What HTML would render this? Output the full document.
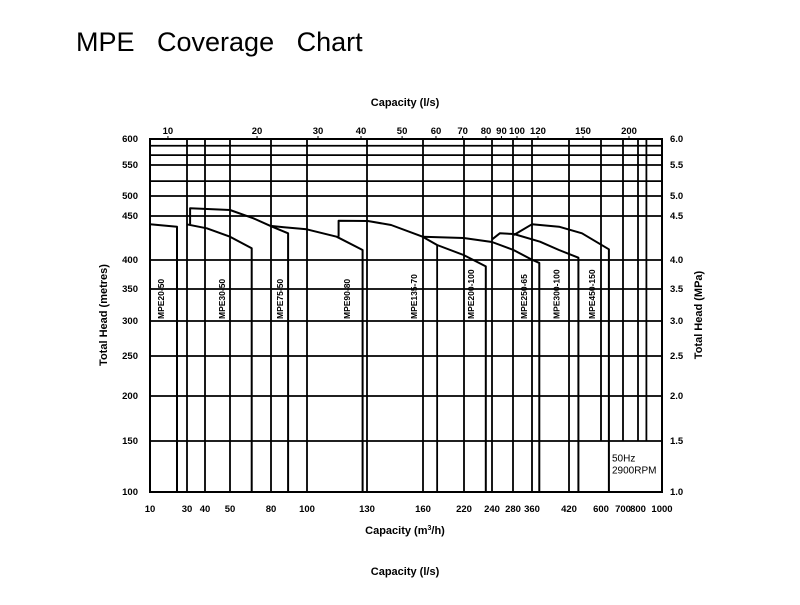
<!DOCTYPE html>
<html><head><meta charset="utf-8"><style>
body{margin:0;background:#fff;width:800px;height:600px;overflow:hidden;font-family:"Liberation Sans",Arial,sans-serif}
svg text{font-family:"Liberation Sans",Arial,sans-serif}
</style></head><body>
<svg id="chart" width="800" height="600" viewBox="0 0 800 600" xmlns="http://www.w3.org/2000/svg">
<text x="76" y="51" font-size="27" word-spacing="15">MPE Coverage Chart</text>
<text x="405" y="106" font-size="11" font-weight="bold" text-anchor="middle">Capacity (l/s)</text>
<text x="405" y="534" font-size="11" font-weight="bold" text-anchor="middle">Capacity (m<tspan font-size="7" dy="-4">3</tspan><tspan dy="4">/h)</tspan></text>
<text x="405" y="575" font-size="11" font-weight="bold" text-anchor="middle">Capacity (l/s)</text>
<text transform="translate(107,315) rotate(-90)" font-size="11" font-weight="bold" text-anchor="middle">Total Head  (metres)</text>
<text transform="translate(702,315) rotate(-90)" font-size="11" font-weight="bold" text-anchor="middle">Total Head  (MPa)</text>
<g id="plot"></g>
</svg>
<script>
// axis definitions (irregular chart scales)
const xAxisQ = [10,30,40,50,80,100,130,160,220,240,280,360,420,600,700,800,1000];
const xAxisPx = [150,187,205,230,271,307,367,423,464,492,513,532,569,601,623,638,662];
const yAxisH = [100,150,200,250,300,350,400,450,500,550,600];
const yAxisPx = [492,441,396,356,321,289,260,216,196,165,139];
// tick labels
const bottomTicks = [10,30,40,50,80,100,130,160,220,240,280,360,420,600,700,800,1000];
const topTickLabels = ["10","20","30","40","50","60","70","80","90","100","120","150","200"];
const topTickQ = [19.7,69.8,105.5,127,148.8,179,218,235.7,258,296.8,369.7,498.8,740];
const leftTicks = [100,150,200,250,300,350,400,450,500,550,600];
const rightTicks = ["1.0","1.5","2.0","2.5","3.0","3.5","4.0","4.5","5.0","5.5","6.0"];
// grid
const gridH = [100,150,200,250,300,350,400,450,500,550,600,524,569,587];
const gridQFull = [30,40,50,80,100,130,160,220,240,280,360,420];
const gridQShort = [600,700,800,870];
// pump curves [q m3/h, head m]
const mpe20_50 = [[10,440.6],[24.6,437.8]];
const mpe30_50 = [[29.8,440.6],[40.7,436],[50,426.5],[65.9,413.3]];
const mpe50_50 = [[31.7,440.6],[31.7,469.3],[50,465],[67.1,447.4],[80.6,437.8],[89.5,430.3]];
const mpe75_50 = [[80.4,438.6],[87.2,437.2],[99.8,434.9],[114.8,426.5],[127.8,411.4]];
const mpe90_80 = [[115.8,426.5],[115.8,444.7],[130.5,444.3],[142.9,439.8],[159.8,426.5],[180.7,417.1],[219.4,405.7],[235.6,389]];
const mpe135_70 = [[159.8,426.5],[219.4,425],[240,420.5],[282,411.4],[360.8,400],[371.8,395]];
const mpe250_65 = [[240.4,423.5],[254.8,430.3],[283.2,429.5],[373,420.8],[403.8,411.4],[472.9,402.6]];
const mpe450_150 = [[283.2,428.4],[359.6,440.6],[403.8,437.8],[493,430.3],[636,412.2]];
const extraDrops = [[180.7,417.1]];
const modelNames = ["MPE20-50","MPE30-50","MPE75-50","MPE90-80","MPE135-70","MPE200-100","MPE250-65","MPE300-100","MPE450-150"];
const modelQ = [15.9,46.8,85,119.9,155.2,225,326,400,548];

function interp(v, a, b){
  for(let i=0;i<a.length-1;i++){
    if(v<=a[i+1]||i===a.length-2){const t=(v-a[i])/(a[i+1]-a[i]);return b[i]+t*(b[i+1]-b[i]);}
  }
}
const xS = q => interp(q, xAxisQ, xAxisPx);
const yS = h => interp(h, yAxisH, yAxisPx);
const NS="http://www.w3.org/2000/svg";
const g=document.getElementById('plot');
function mk(tag, attrs){const e=document.createElementNS(NS,tag);for(const k in attrs)e.setAttribute(k,attrs[k]);g.appendChild(e);return e;}
const L=xS(10),R=xS(1000),T=yS(600),B=yS(100);

gridH.forEach(h=>{
  const e=mk('line',{x1:L,x2:R,y1:yS(h),y2:yS(h),stroke:'#000','stroke-width':1.8});
  
  
});
gridQFull.forEach(q=>{
  const e=mk('line',{x1:xS(q),x2:xS(q),y1:T,y2:B,stroke:'#000','stroke-width':1.8});
  
  
});
gridQShort.forEach(q=>{
  const e=mk('line',{x1:xS(q),x2:xS(q),y1:T,y2:yS(150),stroke:'#000','stroke-width':1.8});
  
  
});
const fr=mk('rect',{x:L,y:T,width:R-L,height:B-T,fill:'none',stroke:'#000','stroke-width':2});



const curves=[["mpe20-50",mpe20_50],["mpe30-50",mpe30_50],["mpe50-50",mpe50_50],["mpe75-50",mpe75_50],["mpe90-80",mpe90_80],["mpe135-70",mpe135_70],["mpe250-65",mpe250_65],["mpe450-150",mpe450_150]];
curves.forEach(([n,pts])=>{
  const last=pts[pts.length-1];
  const all=pts.concat([[last[0],100]]);
  const d=all.map((p,i)=>(i?'L':'M')+xS(p[0]).toFixed(1)+' '+yS(p[1]).toFixed(1)).join(' ');
  const e=mk('path',{d:d,fill:'none',stroke:'#000','stroke-width':2,'stroke-linejoin':'round'});
  
  
});
extraDrops.forEach(p=>{
  const e=mk('line',{x1:xS(p[0]),x2:xS(p[0]),y1:yS(p[1]),y2:B,stroke:'#000','stroke-width':1.8});
  
  
});

bottomTicks.forEach(q=>{
  const t=mk('text',{x:xS(q),y:B+20,'font-size':9.5,'font-weight':'bold','text-anchor':'middle'});
  t.textContent=q;
  
  
});
topTickLabels.forEach((s,i)=>{
  const x=xS(topTickQ[i]);
  const t=mk('text',{x:x,y:T-5,'font-size':9.5,'font-weight':'bold','text-anchor':'middle'});
  t.textContent=s;
  
  
  const k=mk('line',{x1:x,x2:x,y1:T-3,y2:T,stroke:'#000','stroke-width':1});
  
  
});
leftTicks.forEach(h=>{
  const t=mk('text',{x:L-12,y:yS(h)+3,'font-size':9.5,'font-weight':'bold','text-anchor':'end'});
  t.textContent=h;
  
  
});
rightTicks.forEach((s,i)=>{
  const t=mk('text',{x:R+8,y:yS(leftTicks[i])+3,'font-size':9.5,'font-weight':'bold'});
  t.textContent=s;
  
  
});
modelNames.forEach((s,i)=>{
  const x=xS(modelQ[i]);
  const t=mk('text',{transform:`translate(${x+3},319) rotate(-90)`,'font-size':8.5,'font-weight':'bold'});
  t.textContent=s;
  
  
});
const n1=mk('text',{x:xS(600)+11,y:yS(130),'font-size':10});
n1.textContent='50Hz';


const n2=mk('text',{x:xS(600)+11,y:yS(130)+12,'font-size':10});
n2.textContent='2900RPM';


</script>
</body></html>
